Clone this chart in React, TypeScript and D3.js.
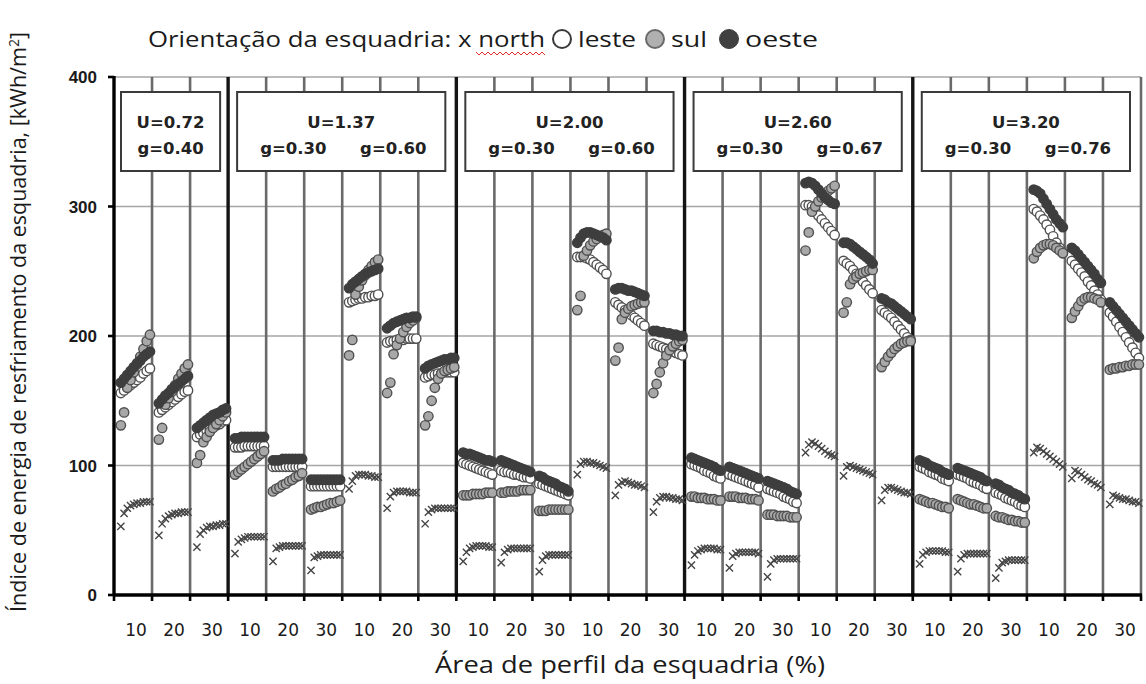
import React from "react";
import * as d3 from "d3";

// Frame-profile area labels shown under every group
const frameAreaLabels = ["10", "20", "30"];
// Panel headings: window U-value and glazing solar factors
const uLabels = ["U=0.72", "U=1.37", "U=2.00", "U=2.60", "U=3.20"];
const gLabels = [["g=0.40"], ["g=0.30", "g=0.60"], ["g=0.30", "g=0.60"], ["g=0.30", "g=0.67"], ["g=0.30", "g=0.76"]];
const panelGroupCounts = [3, 6, 6, 6, 6];
const yTicks = [0, 100, 200, 300, 400];

// Cooling energy index [kWh/m²], one row of 10 points per group (27 groups)
const northData = [
  [53, 63, 67, 69, 70, 71, 71, 72, 72, 72],
  [46, 55, 59, 61, 62, 63, 63, 64, 64, 64],
  [37, 47, 50, 52, 53, 53, 54, 54, 55, 55],
  [32, 41, 43, 44, 45, 45, 45, 45, 45, 45],
  [26, 36, 37, 38, 38, 38, 38, 38, 38, 38],
  [19, 29, 30, 31, 31, 31, 31, 31, 31, 31],
  [82, 88, 92, 93, 93, 93, 92, 92, 91, 91],
  [67, 76, 79, 80, 80, 80, 80, 79, 79, 79],
  [55, 64, 66, 67, 67, 67, 67, 67, 67, 67],
  [26, 33, 36, 37, 38, 38, 38, 38, 37, 37],
  [25, 33, 35, 36, 36, 36, 36, 36, 36, 36],
  [18, 27, 30, 31, 31, 31, 31, 31, 31, 31],
  [93, 101, 103, 103, 102, 102, 101, 100, 99, 98],
  [77, 85, 87, 88, 87, 86, 85, 85, 84, 83],
  [64, 72, 75, 76, 76, 75, 75, 74, 74, 73],
  [23, 31, 34, 35, 36, 36, 36, 36, 35, 35],
  [21, 30, 32, 33, 33, 33, 33, 33, 33, 32],
  [14, 24, 27, 28, 28, 28, 28, 28, 28, 28],
  [110, 116, 118, 117, 115, 113, 111, 109, 108, 107],
  [92, 99, 100, 99, 98, 97, 96, 95, 94, 93],
  [73, 81, 83, 83, 82, 81, 80, 79, 79, 78],
  [24, 31, 33, 34, 34, 34, 34, 34, 33, 33],
  [18, 28, 31, 32, 32, 32, 32, 32, 32, 32],
  [13, 21, 25, 26, 27, 27, 27, 27, 27, 27],
  [110, 114, 113, 111, 109, 107, 105, 103, 101, 99],
  [90, 96, 95, 93, 91, 89, 88, 86, 85, 83],
  [70, 77, 76, 75, 74, 74, 73, 72, 72, 71],
];

const lesteData = [
  [156, 158, 160, 162, 164, 166, 168, 171, 173, 175],
  [141, 143, 145, 147, 149, 151, 153, 155, 157, 158],
  [122, 124, 125, 127, 128, 130, 131, 132, 134, 135],
  [114, 114, 114, 115, 115, 115, 115, 115, 115, 115],
  [99, 99, 99, 99, 99, 99, 99, 99, 99, 99],
  [84, 84, 84, 84, 84, 84, 84, 84, 84, 84],
  [226, 227, 228, 229, 229, 230, 230, 231, 231, 232],
  [195, 196, 196, 197, 197, 197, 198, 198, 198, 198],
  [168, 169, 170, 170, 171, 171, 172, 172, 172, 172],
  [102, 101, 100, 99, 98, 97, 96, 95, 94, 93],
  [96, 95, 95, 94, 93, 93, 92, 91, 91, 90],
  [86, 85, 84, 83, 82, 81, 80, 79, 78, 77],
  [261, 261, 261, 260, 259, 257, 255, 253, 251, 248],
  [226, 224, 222, 220, 218, 216, 214, 212, 210, 208],
  [194, 193, 192, 191, 190, 189, 188, 187, 186, 185],
  [101, 100, 99, 98, 96, 95, 94, 92, 91, 90],
  [93, 92, 91, 90, 89, 88, 87, 86, 85, 83],
  [82, 81, 80, 79, 78, 76, 75, 74, 72, 71],
  [301, 301, 300, 297, 293, 290, 287, 284, 281, 278],
  [258, 256, 254, 251, 248, 245, 242, 239, 236, 233],
  [220, 218, 216, 214, 211, 208, 205, 202, 199, 197],
  [99, 98, 97, 95, 94, 93, 92, 90, 89, 88],
  [93, 92, 91, 90, 88, 87, 86, 85, 83, 82],
  [79, 78, 77, 75, 74, 73, 72, 70, 69, 68],
  [298, 296, 293, 290, 286, 282, 277, 272, 268, 264],
  [258, 255, 252, 249, 246, 242, 239, 235, 232, 228],
  [218, 215, 211, 207, 203, 199, 195, 191, 187, 183],
];

const sulData = [
  [131, 141, 160, 166, 172, 178, 184, 190, 196, 201],
  [120, 129, 147, 152, 157, 162, 167, 171, 175, 178],
  [102, 108, 118, 122, 126, 129, 132, 135, 138, 141],
  [93, 95, 97, 99, 101, 103, 105, 107, 109, 111],
  [80, 82, 83, 85, 86, 88, 89, 91, 92, 94],
  [66, 67, 68, 68, 69, 70, 71, 71, 72, 73],
  [185, 197, 232, 238, 243, 247, 251, 254, 257, 259],
  [156, 164, 186, 193, 198, 203, 207, 210, 212, 214],
  [131, 138, 150, 160, 167, 171, 173, 174, 175, 176],
  [77, 77, 77, 78, 78, 78, 78, 79, 79, 79],
  [79, 79, 80, 80, 80, 80, 81, 81, 81, 81],
  [65, 65, 65, 66, 66, 66, 66, 66, 66, 66],
  [220, 231, 262, 266, 270, 273, 275, 277, 278, 279],
  [181, 191, 213, 218, 221, 223, 224, 225, 226, 226],
  [156, 163, 172, 179, 185, 189, 192, 194, 196, 197],
  [76, 76, 75, 75, 75, 74, 74, 74, 73, 73],
  [76, 76, 76, 75, 75, 75, 74, 74, 74, 73],
  [62, 62, 62, 61, 61, 61, 61, 60, 60, 60],
  [266, 280, 296, 300, 304, 307, 310, 312, 314, 316],
  [218, 226, 240, 244, 246, 248, 249, 250, 251, 251],
  [176, 180, 184, 187, 190, 192, 194, 195, 196, 196],
  [74, 73, 72, 71, 71, 70, 69, 68, 68, 67],
  [74, 73, 72, 71, 70, 70, 69, 68, 67, 67],
  [61, 60, 60, 59, 58, 58, 57, 57, 56, 56],
  [260, 265, 268, 270, 271, 271, 270, 268, 266, 264],
  [214, 219, 223, 227, 229, 230, 230, 229, 228, 226],
  [174, 175, 175, 176, 176, 177, 177, 178, 178, 178],
];

const oesteData = [
  [164, 167, 170, 173, 176, 179, 181, 184, 186, 188],
  [148, 151, 154, 156, 159, 161, 163, 165, 167, 169],
  [129, 131, 133, 135, 137, 139, 140, 141, 143, 144],
  [121, 121, 122, 122, 122, 122, 122, 122, 122, 122],
  [104, 104, 104, 105, 105, 105, 105, 105, 105, 105],
  [89, 89, 89, 89, 89, 89, 89, 89, 89, 89],
  [237, 240, 242, 244, 246, 248, 249, 250, 251, 252],
  [206, 208, 210, 211, 212, 213, 214, 214, 215, 215],
  [175, 177, 178, 179, 180, 181, 182, 182, 183, 183],
  [110, 109, 109, 108, 107, 106, 105, 104, 104, 103],
  [104, 103, 102, 101, 100, 99, 98, 97, 96, 95],
  [92, 91, 89, 88, 87, 86, 84, 83, 82, 80],
  [272, 276, 279, 280, 280, 279, 278, 277, 276, 274],
  [236, 237, 237, 236, 235, 235, 234, 233, 232, 231],
  [204, 204, 203, 203, 202, 202, 201, 201, 200, 200],
  [106, 105, 104, 103, 102, 101, 100, 99, 97, 96],
  [99, 98, 97, 96, 95, 94, 93, 92, 91, 90],
  [88, 87, 86, 85, 84, 83, 82, 80, 79, 78],
  [318, 319, 318, 316, 313, 310, 307, 305, 303, 302],
  [272, 272, 271, 269, 267, 265, 263, 261, 259, 256],
  [229, 228, 226, 225, 223, 221, 219, 217, 215, 213],
  [104, 103, 102, 100, 99, 98, 97, 95, 94, 93],
  [98, 97, 96, 95, 94, 93, 92, 91, 89, 88],
  [86, 85, 83, 82, 81, 79, 78, 77, 75, 74],
  [313, 312, 310, 306, 302, 298, 294, 290, 287, 284],
  [268, 266, 263, 260, 257, 254, 251, 248, 244, 241],
  [226, 223, 220, 217, 214, 211, 208, 205, 202, 199],
];

const W = 1146;
const H = 684;
const nGroups = northData.length;

const x = d3.scaleLinear().domain([0, nGroups]).range([114, 1141]);
const y = d3.scaleLinear().domain([0, 400]).range([595, 77]);

const pointX = (g: number, i: number) => x(g + 0.18 + i * 0.085);

const circleSeries = [
  { name: "leste", data: lesteData, fill: "#ffffff", stroke: "#505050" },
  { name: "sul", data: sulData, fill: "#a8a8a8", stroke: "#505050" },
  { name: "oeste", data: oesteData, fill: "#3e3e3e", stroke: "#3e3e3e" },
];

const panelStarts = panelGroupCounts.reduce<number[]>((acc, n, k) => {
  acc.push(k === 0 ? 0 : acc[k - 1] + panelGroupCounts[k - 1]);
  return acc;
}, []);

const sansFont = "'Open Sans', 'Noto Sans', sans-serif";
const boxFont = "'DejaVu Sans', Verdana, sans-serif";

export default function App() {
  const groups = d3.range(nGroups);
  const wave = d3.range(0, 70, 3).map((d, k) => `${k === 0 ? "M" : "L"}${476 + d},${k % 2 === 0 ? 52 : 55}`).join(" ");

  return (
    <svg width={W} height={H} style={{ position: "absolute", left: 0, top: 0, background: "#fff" }}>
      {/* horizontal grid */}
      {yTicks.filter((t) => t > 0).map((t) => (
        <line key={`gy${t}`} x1={x(0)} x2={x(nGroups)} y1={y(t)} y2={y(t)} stroke="#a6a6a6" strokeWidth={1.3} />
      ))}

      {/* group separators */}
      {d3.range(1, nGroups + 1).map((g) => {
        if (panelStarts.includes(g)) return null;
        return (
          <line key={`gv${g}`} x1={x(g)} x2={x(g)} y1={y(400)} y2={y(0)} stroke="#6a6a6a" strokeWidth={2.6} />
        );
      })}
      {/* panel separators */}
      {panelStarts.slice(1).map((g) => (
        <line key={`pv${g}`} x1={x(g)} x2={x(g)} y1={y(400)} y2={y(0)} stroke="#141414" strokeWidth={3.4} />
      ))}

      {/* panel headings */}
      {uLabels.map((u, k) => {
        const g0 = panelStarts[k];
        const g1 = g0 + panelGroupCounts[k];
        const bx0 = x(g0) + (k === 0 ? 7 : 9);
        const bx1 = x(g1) - (k === 0 ? 8 : 11);
        const bw = bx1 - bx0;
        const gl = gLabels[k];
        return (
          <g key={`box${k}`}>
            <rect x={bx0} y={92} width={bw} height={79} fill="#fff" stroke="#3a3a3a" strokeWidth={2} />
            <text x={bx0 + bw / 2} y={128} textAnchor="middle" fontFamily={boxFont} fontWeight="bold" fontSize={16.5} fill="#222">{u}</text>
            {gl.length === 1 ? (
              <text x={bx0 + bw / 2} y={154} textAnchor="middle" fontFamily={boxFont} fontWeight="bold" fontSize={16.5} fill="#222">{gl[0]}</text>
            ) : (
              gl.map((s, j) => (
                <text key={s + j} x={bx0 + bw * (j === 0 ? 0.27 : 0.75)} y={154} textAnchor="middle" fontFamily={boxFont} fontWeight="bold" fontSize={16.5} fill="#222">{s}</text>
              ))
            )}
          </g>
        );
      })}

      {/* north: cross markers */}
      {groups.map((g) =>
        northData[g].map((v, i) => {
          const cx = pointX(g, i);
          const cy = y(v);
          const s = 3.6;
          return (
            <path key={`n${g}-${i}`} d={`M${cx - s},${cy - s}L${cx + s},${cy + s}M${cx - s},${cy + s}L${cx + s},${cy - s}`} stroke="#454545" strokeWidth={1.4} fill="none" />
          );
        })
      )}

      {/* circle series */}
      {circleSeries.map((s) =>
        groups.map((g) =>
          s.data[g].map((v, i) => (
            <circle key={`${s.name}${g}-${i}`} cx={pointX(g, i)} cy={y(v)} r={4.7} fill={s.fill} stroke={s.stroke} strokeWidth={1.4} />
          ))
        )
      )}

      {/* axes */}
      <line x1={x(0)} x2={x(0)} y1={y(400) - 1} y2={y(0) + 1} stroke="#000" strokeWidth={3.4} />
      <line x1={x(0) - 1} x2={x(nGroups) + 1} y1={y(0)} y2={y(0)} stroke="#000" strokeWidth={3.4} />
      {yTicks.map((t) => (
        <g key={`yt${t}`}>
          <line x1={x(0) - 6} x2={x(0)} y1={y(t)} y2={y(t)} stroke="#000" strokeWidth={2.6} />
          <text x={97} y={y(t) + 6} textAnchor="end" fontFamily="'Liberation Sans', Arial, sans-serif" fontWeight="bold" fontSize={17} fill="#1a1a1a">{t}</text>
        </g>
      ))}
      {d3.range(0, nGroups + 1).map((g) => (
        <line key={`xt${g}`} x1={x(g)} x2={x(g)} y1={y(0)} y2={y(0) + 6} stroke="#000" strokeWidth={2.6} />
      ))}
      {groups.map((g) => (
        <text key={`xl${g}`} x={x(g + 0.5) + 3} y={636} textAnchor="middle" fontFamily={boxFont} fontSize={17} fill="#1a1a1a">
          {frameAreaLabels[g % 3]}
        </text>
      ))}

      {/* axis titles */}
      <text x={630} y={673} textAnchor="middle" fontFamily={sansFont} fontSize={23} textLength={390} lengthAdjust="spacingAndGlyphs" fill="#1a1a1a">Área de perfil da esquadria (%)</text>
      <text transform="translate(26,322) rotate(-90)" textAnchor="middle" fontFamily={sansFont} fontSize={21.5} fill="#1a1a1a">
        Índice de energia de resfriamento da esquadria, [kWh/m<tspan dy={-7} fontSize={14}>2</tspan><tspan dy={7}>]</tspan>
      </text>

      {/* legend line */}
      <text x={148} y={47} fontFamily={sansFont} fontSize={22} textLength={397} lengthAdjust="spacingAndGlyphs" fill="#1a1a1a">Orientação da esquadria: x north</text>
      <path d={wave} stroke="#e03030" strokeWidth={1} fill="none" />
      <circle cx={562} cy={39} r={9} fill="#fff" stroke="#3a3a3a" strokeWidth={2} />
      <text x={578} y={47} fontFamily={sansFont} fontSize={22} textLength={58} lengthAdjust="spacingAndGlyphs" fill="#1a1a1a">leste</text>
      <circle cx={655} cy={39} r={9} fill="#b0b0b0" stroke="#6a6a6a" strokeWidth={2} />
      <text x={671} y={47} fontFamily={sansFont} fontSize={22} textLength={36} lengthAdjust="spacingAndGlyphs" fill="#1a1a1a">sul</text>
      <circle cx={729} cy={39} r={9.5} fill="#404040" stroke="#404040" strokeWidth={1} />
      <text x={745} y={47} fontFamily={sansFont} fontSize={22} textLength={73} lengthAdjust="spacingAndGlyphs" fill="#1a1a1a">oeste</text>
    </svg>
  );
}
